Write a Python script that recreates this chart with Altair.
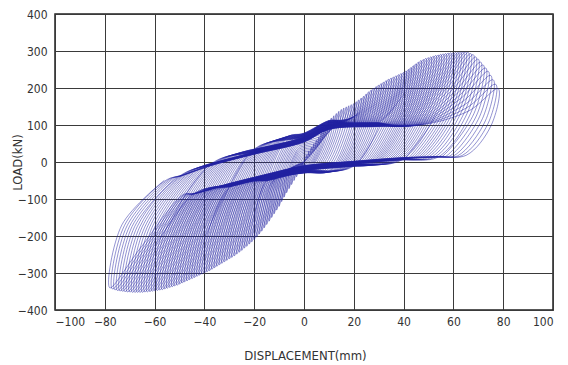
import altair as alt
import pandas as pd
import numpy as np

# cycle amplitudes (mm) and peak loads (kN) read from the loop tips
amp = list(range(1, 79))
pos_peak = [18, 30, 40, 50, 59, 68, 79, 90, 101, 112, 119, 125, 131, 137, 142, 146, 149, 152, 155, 158,
            163, 168, 173, 178, 184, 190, 195, 200, 204, 208, 212, 216, 220, 224, 227, 230, 233, 236, 239, 242,
            246, 250, 255, 260, 265, 270, 274, 277, 280, 282, 284, 286, 288, 289, 291, 292, 293, 294, 295, 295,
            296, 296, 297, 297, 297, 296, 293, 290, 284, 278, 270, 262, 254, 245, 234, 222, 210, 198]
neg_peak = [-17, -30, -40, -50, -61, -72, -83, -95, -107, -120, -130, -140, -150, -160, -169, -178, -187, -195, -203, -210,
            -216, -222, -228, -233, -239, -244, -249, -254, -258, -262, -266, -270, -274, -278, -282, -286, -290, -294, -297, -300,
            -303, -306, -309, -312, -315, -318, -321, -324, -327, -330, -333, -335, -337, -339, -341, -343, -345, -346, -347, -348,
            -349, -350, -351, -351, -352, -352, -352, -352, -352, -351, -351, -350, -349, -348, -347, -345, -343, -340]

# pinched reloading bands (dense dark bands)
upper_x = [-80, -70, -50, -37, -20, 0, 10, 30, 50, 70, 80]
upper_y = [-70, -60, -25, 5, 35, 68, 102, 110, 116, 125, 128]
lower_x = [-80, -60, -45, -30, -15, 0, 20, 40, 54, 70, 80]
lower_y = [-110, -105, -98, -70, -45, -22, -10, 0, 3, 8, 10]
# drift of the bands as the test progresses (amplitude knots)
drift_amp = [20, 40, 60, 78]
upper_drift = [10, 0, -8, -14]
lower_drift = [-8, 0, 6, 12]

x_ticks = [-100, -80, -60, -40, -20, 0, 20, 40, 60, 80, 100]
y_ticks = [-400, -300, -200, -100, 0, 100, 200, 300, 400]


pts = [(0.0, 0.0)]
join_x = 0.0
for i, d in enumerate(amp):
    P = pos_peak[i]
    N = neg_peak[i]
    e = d
    s = min(1.0, d / 20.0)
    du = float(np.interp(d, drift_amp, upper_drift))
    dl = float(np.interp(d, drift_amp, lower_drift))

    def U(x):
        return (float(np.interp(x, upper_x, upper_y)) + du) * s

    def L(x):
        return (float(np.interp(x, lower_x, lower_y)) + dl) * s

    # reload toward positive along upper band
    leave = 0.62 * d
    for bx in upper_x:
        if join_x < bx < leave:
            pts.append((bx, U(bx)))
    pts.append((leave, U(leave)))
    pts.append((0.85 * d, 0.7 * P))
    pts.append((d, P))
    # unloading from positive peak
    xa = d - 0.5 * P / 35.0
    xb = max(xa - 0.5 * P / 10.0, -0.2 * d)
    pts.append((xa, 0.5 * P))
    pts.append((xb, L(xb)))
    # reload toward negative along lower band
    leave_n = -0.62 * e
    for bx in reversed(lower_x):
        if leave_n < bx < xb:
            pts.append((bx, L(bx)))
    pts.append((leave_n, L(leave_n)))
    pts.append((-0.85 * e, 0.7 * N))
    pts.append((-e, N))
    # unloading from negative peak
    xa = -e + 0.5 * abs(N) / 35.0
    xb = min(xa + 0.5 * abs(N) / 10.0, 0.2 * e)
    pts.append((xa, 0.5 * N))
    join_x = xb
    pts.append((xb, U(xb)))

df = pd.DataFrame({
    "disp": [p[0] for p in pts],
    "load": [p[1] for p in pts],
    "idx": list(range(len(pts))),
})

font = "Liberation Sans Narrow, DejaVu Sans Condensed, Arial Narrow, sans-serif"

axis_style = dict(
    grid=True, gridColor="#3a3a3a", gridWidth=1, gridOpacity=1,
    domain=False, ticks=False,
    labelFont=font, labelFontSize=12, labelColor="#333333",
    titleFont=font, titleFontSize=13, titleFontWeight="normal", titleColor="#333333",
)

chart = alt.Chart(df).mark_line(
    color="#2020a0", strokeWidth=0.75, opacity=0.65, interpolate="catmull-rom", clip=True
).encode(
    x=alt.X("disp:Q", scale=alt.Scale(domain=[-100, 100], nice=False),
            axis=alt.Axis(values=x_ticks, title="DISPLACEMENT(mm)", titleX=250, titleY=45,
                          titleBaseline="middle", labelPadding=6, **axis_style)),
    y=alt.Y("load:Q", scale=alt.Scale(domain=[-400, 400], nice=False),
            axis=alt.Axis(values=y_ticks, title="LOAD(kN)", titleX=-38, titleY=148,
                          titleAlign="center", titleBaseline="middle", labelPadding=8,
                          **axis_style)),
    order="idx:Q",
).properties(
    width=498, height=296,
    background="white",
    autosize=alt.AutoSizeParams(type="none"),
    padding={"left": 55, "top": 14, "right": 15, "bottom": 55},
).configure_view(
    stroke="#222222", strokeWidth=1.5,
)

chart.save("out.html", embed_options={"renderer": "svg", "actions": False})
